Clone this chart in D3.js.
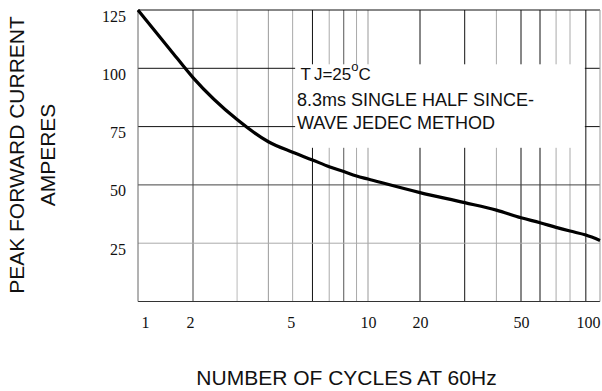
<!DOCTYPE html>
<html>
<head>
<meta charset="utf-8">
<script src="https://cdn.jsdelivr.net/npm/d3@7"></script>
<style>
  html, body { margin: 0; padding: 0; background: #fff; }
  svg { display: block; }
</style>
</head>
<body>
<div id="chart"></div>
<script>
// surge current curve
const cycles = [1, 1.5, 2, 3, 4, 5, 6, 7, 8, 9, 10, 20, 30, 40, 50, 60, 70, 80, 90, 100];
const current = [125, 108, 96, 78, 68.5, 64, 60.7, 57.8, 55.7, 53.8, 52.5, 46.7, 42.4, 39.2, 35.9, 33.8, 31.8, 30.2, 28.5, 26.2];

const xTicks = [1, 2, 5, 10, 20, 50, 100];
const yTicks = [25, 50, 75, 100, 125];
const gridCycles = [2, 3, 4, 5, 6, 7, 8, 9, 10, 20, 30, 40, 50, 60, 70, 80, 90];
const gridCurrent = [25, 50, 75, 100];

const xTitle = "NUMBER OF CYCLES AT 60Hz";
const yTitle = ["PEAK FORWARD CURRENT", "AMPERES"];
const noteLines = ["8.3ms SINGLE HALF SINCE-", "WAVE JEDEC METHOD"];

const width = 602, height = 391;
const mLeft = 138, mRight = 600, mTop = 10, mBottom = 301.5;

// the printed log axis is hand drawn, so the decades are not quite even
const x = d3.scaleLog()
    .domain([1, 2, 10, 20, 50, 80, 100])
    .range([mLeft, 193, 368, 420, 521, 570, mRight]);
const y = d3.scaleLinear().domain([0, 125]).range([mBottom, mTop]);

// line shades as they come out in the scan
const vShade = { 2: "#444", 3: "#bbb", 4: "#999", 5: "#aaa", 6: "#111", 7: "#aaa", 8: "#555",
    9: "#aaa", 10: "#999", 20: "#111", 30: "#111", 40: "#aaa", 50: "#111", 60: "#111",
    70: "#aaa", 80: "#aaa", 90: "#111" };
const hShade = { 25: "#aaa", 50: "#444", 75: "#111", 100: "#111" };

const svg = d3.select("#chart").append("svg")
    .attr("width", width)
    .attr("height", height);

const grid = svg.append("g");

grid.selectAll("line.v")
    .data(gridCycles)
    .enter().append("line")
    .attr("x1", d => x(d)).attr("x2", d => x(d))
    .attr("y1", mTop).attr("y2", mBottom)
    .attr("stroke", d => vShade[d])
    .attr("stroke-width", 1);

grid.selectAll("line.h")
    .data(gridCurrent)
    .enter().append("line")
    .attr("x1", mLeft).attr("x2", mRight)
    .attr("y1", d => y(d)).attr("y2", d => y(d))
    .attr("stroke", d => hShade[d])
    .attr("stroke-width", 1);

// frame
svg.append("line").attr("x1", mLeft).attr("x2", mRight).attr("y1", mTop).attr("y2", mTop)
    .attr("stroke", "#111");
svg.append("line").attr("x1", mLeft).attr("x2", mRight).attr("y1", mBottom).attr("y2", mBottom)
    .attr("stroke", "#333");
svg.append("line").attr("x1", mLeft).attr("x2", mLeft).attr("y1", mTop).attr("y2", mBottom)
    .attr("stroke", "#666");
svg.append("line").attr("x1", mRight).attr("x2", mRight).attr("y1", mTop).attr("y2", mBottom)
    .attr("stroke", "#999");

// white panel behind the note, but lines at 5 and 90 cycles run through it
svg.append("rect")
    .attr("x", x(5) + 2.5).attr("y", y(100) - 4)
    .attr("width", x(90) - x(5) - 3.5)
    .attr("height", 83.5)
    .attr("fill", "#fff");

// curve
const line = d3.line()
    .x((d, i) => x(cycles[i]))
    .y(d => y(d))
    .curve(d3.curveMonotoneX);

svg.append("path")
    .datum(current)
    .attr("d", line)
    .attr("fill", "none")
    .attr("stroke", "#000")
    .attr("stroke-width", 3.2)
    .attr("stroke-linejoin", "round");

// axes
const serif = "'Liberation Serif', 'Times New Roman', serif";
const sans = "'Liberation Sans', Arial, sans-serif";

const yAxis = svg.append("g")
    .attr("transform", `translate(${mLeft},0)`)
    .call(d3.axisLeft(y).tickValues(yTicks).tickSize(0).tickPadding(12));
yAxis.select(".domain").remove();
yAxis.selectAll("text")
    .attr("dy", null)
    .attr("y", 11)
    .attr("font-family", serif)
    .attr("font-size", 16)
    .attr("fill", "#111");

const xAxis = svg.append("g")
    .attr("transform", `translate(0,${mBottom})`)
    .call(d3.axisBottom(x).tickValues(xTicks).tickFormat(d3.format("d")).tickSize(0).tickPadding(0));
xAxis.select(".domain").remove();
xAxis.selectAll("text")
    .attr("dy", null)
    .attr("y", 26.5)
    .attr("x", d => d === 1 ? 3 : d === 2 ? -3 : d === 5 ? -2 : 0)
    .attr("text-anchor", d => d === 1 ? "start" : d === 100 ? "end" : "middle")
    .attr("font-family", serif)
    .attr("font-size", 16)
    .attr("fill", "#111");

// titles
svg.append("text")
    .attr("x", 346.5).attr("y", 385)
    .attr("text-anchor", "middle")
    .attr("font-family", sans)
    .attr("font-size", 21)
    .attr("fill", "#111")
    .text(xTitle);

svg.selectAll("text.ytitle")
    .data(yTitle)
    .enter().append("text")
    .attr("transform", (d, i) => `translate(${i === 0 ? 24 : 55},155) rotate(-90)`)
    .attr("text-anchor", "middle")
    .attr("font-family", sans)
    .attr("font-size", 21)
    .attr("fill", "#111")
    .text(d => d);

// note
const note = svg.append("text")
    .attr("x", 300.5).attr("y", 80)
    .attr("font-family", sans)
    .attr("font-size", 17)
    .attr("fill", "#111");
note.append("tspan").text("T");
note.append("tspan").attr("dx", 3).text("J=25");
note.append("tspan").attr("dy", -9).attr("font-size", 13).text("o");
note.append("tspan").attr("dy", 9).text("C");

svg.selectAll("text.note")
    .data(noteLines)
    .enter().append("text")
    .attr("x", 297)
    .attr("y", (d, i) => 106 + i * 22.5)
    .attr("font-family", sans)
    .attr("font-size", 18)
    .attr("fill", "#111")
    .text(d => d);
</script>
</body>
</html>
